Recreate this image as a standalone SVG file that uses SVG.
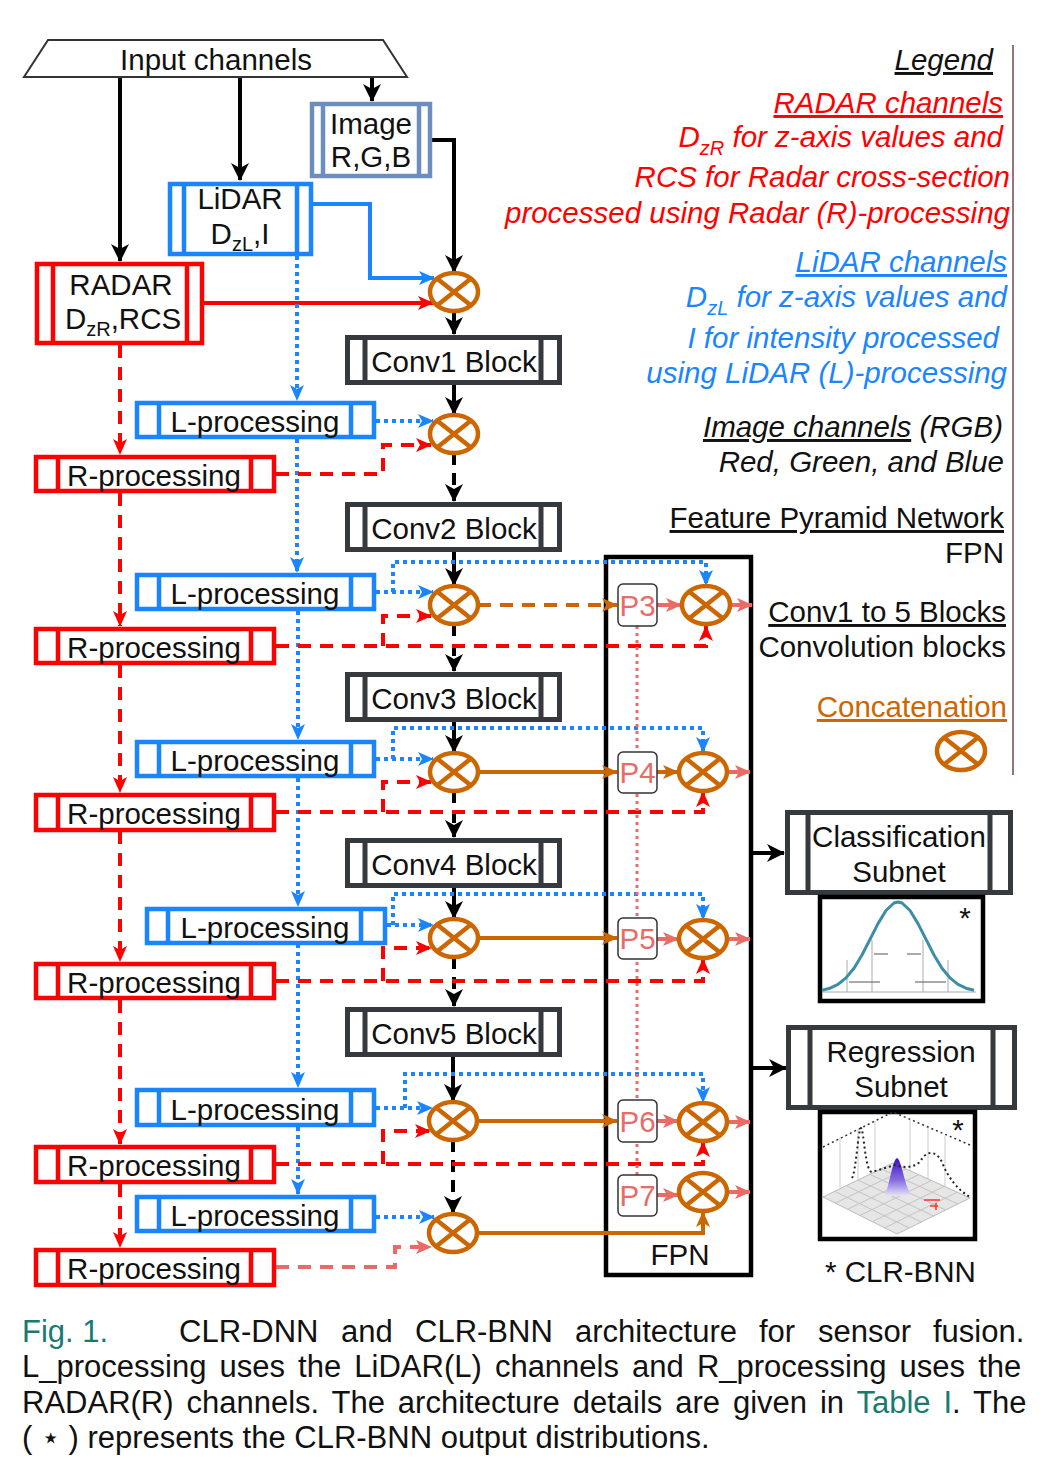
<svg xmlns="http://www.w3.org/2000/svg" width="1058" height="1476" viewBox="0 0 1058 1476">
<style>
.t{font-family:"Liberation Sans",Arial,Helvetica,sans-serif;font-size:29.5px;fill:#111}
.m{text-anchor:middle}
.e{text-anchor:end}
.i{font-style:italic}
.u{text-decoration:underline}
.bl{fill:#fff;stroke:#1a85ff;stroke-width:4.5}
.br{fill:#fff;stroke:#ff0000;stroke-width:4.5}
.bc{fill:#fff;stroke:#36393d;stroke-width:5}
.ln{fill:none;stroke-width:4}
.k{stroke:#000}
.b{stroke:#1a85ff}
.r{stroke:#ff0000}
.o{stroke:#cc6600}
.p{stroke:#ea6b66}
.dot{stroke-dasharray:4 4}
.dash{stroke-dasharray:13 9}
.kd{stroke-dasharray:12 8}
.pb{fill:#fff;stroke:#333;stroke-width:1.5}
.pt{fill:#ea6b66}
.cap{font-family:"Liberation Sans",Arial,Helvetica,sans-serif;font-size:31px;fill:#111}
</style>
<defs>
<marker id="ak" viewBox="0 0 18 18" refX="17" refY="9" markerWidth="18" markerHeight="18" markerUnits="userSpaceOnUse" orient="auto"><path d="M0,0 L18,9 L0,18 L5,9 Z" fill="#000"/></marker>
<marker id="ab" viewBox="0 0 16 14" refX="15" refY="7" markerWidth="16" markerHeight="14" markerUnits="userSpaceOnUse" orient="auto"><path d="M0,0 L16,7 L0,14 L4,7 Z" fill="#1a85ff"/></marker>
<marker id="ar" viewBox="0 0 16 14" refX="15" refY="7" markerWidth="16" markerHeight="14" markerUnits="userSpaceOnUse" orient="auto"><path d="M0,0 L16,7 L0,14 L4,7 Z" fill="#ff0000"/></marker>
<marker id="ao" viewBox="0 0 16 14" refX="15" refY="7" markerWidth="16" markerHeight="14" markerUnits="userSpaceOnUse" orient="auto"><path d="M0,0 L16,7 L0,14 L4,7 Z" fill="#cc6600"/></marker>
<marker id="ap" viewBox="0 0 16 14" refX="15" refY="7" markerWidth="16" markerHeight="14" markerUnits="userSpaceOnUse" orient="auto"><path d="M0,0 L16,7 L0,14 L4,7 Z" fill="#ea6b66"/></marker>
<g id="cx"><ellipse rx="24" ry="19" fill="#fff" stroke="#cc6600" stroke-width="4.5"/><path d="M-17,-13.5 L17,13.5 M-17,13.5 L17,-13.5" stroke="#cc6600" stroke-width="4.5"/></g>
<linearGradient id="pg" x1="0" y1="0" x2="0" y2="1"><stop offset="0" stop-color="#3a10c8"/><stop offset="0.6" stop-color="#8a70e0"/><stop offset="1" stop-color="#e8e4f6"/></linearGradient>
</defs>
<rect width="1058" height="1476" fill="#fff"/>

<g id="fpn">
<rect x="606" y="557" width="145" height="718" fill="none" stroke="#000" stroke-width="4.5"/>
<text class="t m" x="680" y="1265">FPN</text>
</g>

<g id="connectors">
<path class="ln k" d="M120,77 V261" marker-end="url(#ak)"/>
<path class="ln k" d="M240,77 V180" marker-end="url(#ak)"/>
<path class="ln k" d="M372,77 V101" marker-end="url(#ak)"/>
<path class="ln k" d="M432,140 H454 V272" marker-end="url(#ak)"/>
<path class="ln b" d="M313,204 H370 V278 H434" marker-end="url(#ab)"/>
<path class="ln r" d="M204,303 H433" marker-end="url(#ar)"/>
<path class="ln k" d="M454,311 V334" marker-end="url(#ak)"/>
<path class="ln k" d="M454,385 V414" marker-end="url(#ak)"/>
<path class="ln k kd" d="M454,453 V501" marker-end="url(#ak)"/>
<path class="ln k" d="M454,552 V585" marker-end="url(#ak)"/>
<path class="ln k kd" d="M454,624 V671" marker-end="url(#ak)"/>
<path class="ln k" d="M454,722 V752" marker-end="url(#ak)"/>
<path class="ln k kd" d="M454,791 V837" marker-end="url(#ak)"/>
<path class="ln k" d="M454,888 V918" marker-end="url(#ak)"/>
<path class="ln k kd" d="M454,957 V1006" marker-end="url(#ak)"/>
<path class="ln k" d="M453,1057 V1101" marker-end="url(#ak)"/>
<path class="ln k kd" d="M453,1140 V1213" marker-end="url(#ak)"/>
<path class="ln b dot" d="M297,248 V400" marker-end="url(#ab)"/>
<path class="ln b dot" d="M297,439 V572" marker-end="url(#ab)"/>
<path class="ln b dot" d="M298,611 V739" marker-end="url(#ab)"/>
<path class="ln b dot" d="M298,778 V906" marker-end="url(#ab)"/>
<path class="ln b dot" d="M298,944 V1087" marker-end="url(#ab)"/>
<path class="ln b dot" d="M298,1127 V1194" marker-end="url(#ab)"/>
<path class="ln r dash" d="M120,345 V454" marker-end="url(#ar)"/>
<path class="ln r dash" d="M120,493 V626" marker-end="url(#ar)"/>
<path class="ln r dash" d="M120,665 V792" marker-end="url(#ar)"/>
<path class="ln r dash" d="M120,831 V961" marker-end="url(#ar)"/>
<path class="ln r dash" d="M120,1000 V1144" marker-end="url(#ar)"/>
<path class="ln r dash" d="M120,1184 V1247" marker-end="url(#ar)"/>
<path class="ln b dot" d="M376,421 H433" marker-end="url(#ab)"/>
<path class="ln r dash" d="M276,474 H383 V445 H431" marker-end="url(#ar)"/>
<path class="ln b dot" d="M376,592 H433" marker-end="url(#ab)"/>
<path class="ln b dot" d="M393,592 V562 H706 V585" marker-end="url(#ab)"/>
<path class="ln r dash" d="M276,646 H706 V626" marker-end="url(#ar)"/>
<path class="ln r dash" d="M383,646 V616 H431" marker-end="url(#ar)"/>
<path class="ln o dash" d="M478,605 H617" marker-end="url(#ao)"/>
<path class="ln p" d="M657,605 H681" marker-end="url(#ap)"/>
<path class="ln p" d="M730,605 H752" marker-end="url(#ap)"/>
<path class="ln b dot" d="M376,759 H433" marker-end="url(#ab)"/>
<path class="ln b dot" d="M393,759 V728 H703 V752" marker-end="url(#ab)"/>
<path class="ln r dash" d="M276,812 H703 V792" marker-end="url(#ar)"/>
<path class="ln r dash" d="M383,812 V782 H431" marker-end="url(#ar)"/>
<path class="ln o" d="M478,772 H617" marker-end="url(#ao)"/>
<path class="ln o" d="M657,772 H678" marker-end="url(#ao)"/>
<path class="ln p" d="M727,772 H750" marker-end="url(#ap)"/>
<path class="ln b dot" d="M387,925 H433" marker-end="url(#ab)"/>
<path class="ln b dot" d="M393,925 V894 H703 V919" marker-end="url(#ab)"/>
<path class="ln r dash" d="M276,981 H703 V959" marker-end="url(#ar)"/>
<path class="ln r dash" d="M383,981 V948 H431" marker-end="url(#ar)"/>
<path class="ln o" d="M478,938 H617" marker-end="url(#ao)"/>
<path class="ln p" d="M657,939 H678" marker-end="url(#ap)"/>
<path class="ln p" d="M727,939 H750" marker-end="url(#ap)"/>
<path class="ln b dot" d="M376,1108 H432" marker-end="url(#ab)"/>
<path class="ln b dot" d="M405,1108 V1074 H703 V1102" marker-end="url(#ab)"/>
<path class="ln r dash" d="M276,1164 H703 V1142" marker-end="url(#ar)"/>
<path class="ln r dash" d="M383,1164 V1131 H430" marker-end="url(#ar)"/>
<path class="ln o" d="M477,1121 H617" marker-end="url(#ao)"/>
<path class="ln p" d="M657,1121 H678" marker-end="url(#ap)"/>
<path class="ln p" d="M727,1122 H750" marker-end="url(#ap)"/>
<path class="ln b dot" d="M376,1217 H434" marker-end="url(#ab)"/>
<path class="ln p dash" d="M276,1267 H395 V1247 H431" marker-end="url(#ap)"/>
<path class="ln o" d="M477,1233 H703 V1212" marker-end="url(#ao)"/>
<path class="ln p" d="M657,1195 H678" marker-end="url(#ap)"/>
<path class="ln p" d="M727,1192 H750" marker-end="url(#ap)"/>
<path fill="none" stroke="#ea6b66" stroke-width="3" stroke-dasharray="3 4" d="M637,626 V1175"/>
<path class="ln k" d="M753,853 H784" marker-end="url(#ak)"/>
<path class="ln k" d="M753,1068 H786" marker-end="url(#ak)"/>
</g>

<g id="input">
<polygon points="48,40 383,40 407,77 24,77" fill="#fff" stroke="#333" stroke-width="2"/>
<text class="t m" x="216" y="70">Input channels</text>
</g>
<g id="image">
<rect x="312" y="104" width="118" height="72" fill="#fff" stroke="#6c8ebf" stroke-width="4.5"/>
<path d="M323,104 V176 M419,104 V176" stroke="#6c8ebf" stroke-width="4.5"/>
<text class="t m" x="371" y="134">Image</text>
<text class="t m" x="371" y="167">R,G,B</text>
</g>
<g id="lidar">
<rect class="bl" x="170" y="184" width="141" height="70"/>
<path d="M184,184 V254 M297,184 V254" stroke="#1a85ff" stroke-width="4.5"/>
<text class="t m" x="240" y="209">LiDAR</text>
<text class="t m" x="240" y="244">D<tspan font-size="20" dy="7">zL</tspan><tspan dy="-7">,I</tspan></text>
</g>
<g id="radar">
<rect class="br" x="37" y="264" width="165" height="79"/>
<path d="M53,264 V343 M187,264 V343" stroke="#ff0000" stroke-width="4.5"/>
<text class="t m" x="121" y="295">RADAR</text>
<text class="t m" x="123" y="329">D<tspan font-size="20" dy="7">zR</tspan><tspan dy="-7">,RCS</tspan></text>
</g>

<g id="conv1"><rect class="bc" x="347.5" y="337.5" width="212" height="45"/><path d="M365,337.5 V382.5 M541,337.5 V382.5" stroke="#36393d" stroke-width="5"/><text class="t m" x="454" y="372">Conv1 Block</text></g>
<g id="conv2"><rect class="bc" x="347.5" y="504.5" width="212" height="45"/><path d="M365,504.5 V549.5 M541,504.5 V549.5" stroke="#36393d" stroke-width="5"/><text class="t m" x="454" y="539">Conv2 Block</text></g>
<g id="conv3"><rect class="bc" x="347.5" y="674.5" width="212" height="45"/><path d="M365,674.5 V719.5 M541,674.5 V719.5" stroke="#36393d" stroke-width="5"/><text class="t m" x="454" y="709">Conv3 Block</text></g>
<g id="conv4"><rect class="bc" x="347.5" y="840.5" width="212" height="45"/><path d="M365,840.5 V885.5 M541,840.5 V885.5" stroke="#36393d" stroke-width="5"/><text class="t m" x="454" y="875">Conv4 Block</text></g>
<g id="conv5"><rect class="bc" x="347.5" y="1009.5" width="212" height="45"/><path d="M365,1009.5 V1054.5 M541,1009.5 V1054.5" stroke="#36393d" stroke-width="5"/><text class="t m" x="454" y="1044">Conv5 Block</text></g>

<g id="lproc1"><rect class="bl" x="137" y="403" width="237" height="34"/><path d="M159,403 V437 M351,403 V437" stroke="#1a85ff" stroke-width="4.5"/><text class="t m" x="255" y="432">L-processing</text></g>
<g id="lproc2"><rect class="bl" x="137" y="575" width="237" height="34"/><path d="M159,575 V609 M351,575 V609" stroke="#1a85ff" stroke-width="4.5"/><text class="t m" x="255" y="604">L-processing</text></g>
<g id="lproc3"><rect class="bl" x="137" y="742" width="237" height="34"/><path d="M159,742 V776 M351,742 V776" stroke="#1a85ff" stroke-width="4.5"/><text class="t m" x="255" y="771">L-processing</text></g>
<g id="lproc4"><rect class="bl" x="147" y="909" width="238" height="34"/><path d="M168,909 V943 M361,909 V943" stroke="#1a85ff" stroke-width="4.5"/><text class="t m" x="265" y="938">L-processing</text></g>
<g id="lproc5"><rect class="bl" x="137" y="1090" width="237" height="35"/><path d="M159,1090 V1125 M351,1090 V1125" stroke="#1a85ff" stroke-width="4.5"/><text class="t m" x="255" y="1120">L-processing</text></g>
<g id="lproc6"><rect class="bl" x="137" y="1197" width="237" height="34"/><path d="M159,1197 V1231 M351,1197 V1231" stroke="#1a85ff" stroke-width="4.5"/><text class="t m" x="255" y="1226">L-processing</text></g>

<g id="rproc1"><rect class="br" x="36" y="457" width="238" height="34"/><path d="M58,457 V491 M251,457 V491" stroke="#ff0000" stroke-width="4.5"/><text class="t m" x="154" y="486">R-processing</text></g>
<g id="rproc2"><rect class="br" x="36" y="629" width="238" height="34"/><path d="M58,629 V663 M251,629 V663" stroke="#ff0000" stroke-width="4.5"/><text class="t m" x="154" y="658">R-processing</text></g>
<g id="rproc3"><rect class="br" x="36" y="795" width="238" height="35"/><path d="M58,795 V830 M251,795 V830" stroke="#ff0000" stroke-width="4.5"/><text class="t m" x="154" y="824">R-processing</text></g>
<g id="rproc4"><rect class="br" x="36" y="964" width="238" height="34"/><path d="M58,964 V998 M251,964 V998" stroke="#ff0000" stroke-width="4.5"/><text class="t m" x="154" y="993">R-processing</text></g>
<g id="rproc5"><rect class="br" x="36" y="1147" width="238" height="35"/><path d="M58,1147 V1182 M251,1147 V1182" stroke="#ff0000" stroke-width="4.5"/><text class="t m" x="154" y="1176">R-processing</text></g>
<g id="rproc6"><rect class="br" x="36" y="1250" width="238" height="35"/><path d="M58,1250 V1285 M251,1250 V1285" stroke="#ff0000" stroke-width="4.5"/><text class="t m" x="154" y="1279">R-processing</text></g>

<g id="concat1"><use href="#cx" x="454" y="292"/></g>
<g id="concat2"><use href="#cx" x="454" y="434"/></g>
<g id="concat3"><use href="#cx" x="454" y="605"/></g>
<g id="concat4"><use href="#cx" x="454" y="772"/></g>
<g id="concat5"><use href="#cx" x="454" y="938"/></g>
<g id="concat6"><use href="#cx" x="453" y="1121"/></g>
<g id="concat7"><use href="#cx" x="453" y="1233"/></g>

<g id="p3"><rect class="pb" x="618" y="584" width="39" height="42" rx="5"/><text class="t m pt" x="637.5" y="616">P3</text></g>
<g id="p4"><rect class="pb" x="618" y="752" width="39" height="41" rx="5"/><text class="t m pt" x="637.5" y="783">P4</text></g>
<g id="p5"><rect class="pb" x="618" y="918" width="39" height="41" rx="5"/><text class="t m pt" x="637.5" y="949">P5</text></g>
<g id="p6"><rect class="pb" x="618" y="1100" width="39" height="42" rx="5"/><text class="t m pt" x="637.5" y="1132">P6</text></g>
<g id="p7"><rect class="pb" x="618" y="1175" width="39" height="41" rx="5"/><text class="t m pt" x="637.5" y="1206">P7</text></g>

<g id="fconcat3"><use href="#cx" x="706" y="605"/></g>
<g id="fconcat4"><use href="#cx" x="703" y="772"/></g>
<g id="fconcat5"><use href="#cx" x="703" y="939"/></g>
<g id="fconcat6"><use href="#cx" x="703" y="1122"/></g>
<g id="fconcat7"><use href="#cx" x="703" y="1192"/></g>

<g id="classification">
<rect class="bc" x="787.5" y="812.5" width="223" height="80"/>
<path d="M808,812.5 V892.5 M990,812.5 V892.5" stroke="#36393d" stroke-width="5"/>
<text class="t m" x="899" y="847">Classification</text>
<text class="t m" x="899" y="882">Subnet</text>
<rect x="820" y="897" width="163" height="104" fill="#fff" stroke="#000" stroke-width="4.5"/>
<path d="M822,992 H976 M847,960 V992 M872,940 V992 M923,940 V992 M948,960 V992" stroke="#aaa" stroke-width="1" fill="none"/>
<path d="M874,954 H888 M907,954 H921 M849,982 H880 M915,982 H946" stroke="#555" stroke-width="1" fill="none"/>
<polyline points="822,990.3 830,988.2 838,984.4 846,977.9 854,968.2 862,955 870,939.4 878,923.6 886,910.5 894,903 898,902 902,903 910,910.5 918,923.6 926,939.4 934,955 942,968.2 950,977.9 958,984.4 966,988.2 974,990.3" fill="none" stroke="#3b8ea5" stroke-width="3" stroke-linejoin="round"/>
<text class="t m" x="965" y="928" font-size="22">*</text>
</g>

<g id="regression">
<rect class="bc" x="788.5" y="1027.5" width="226" height="80"/>
<path d="M810,1027.5 V1107.5 M993,1027.5 V1107.5" stroke="#36393d" stroke-width="5"/>
<text class="t m" x="901" y="1062">Regression</text>
<text class="t m" x="901" y="1097">Subnet</text>
<rect x="820" y="1112" width="155" height="127" fill="#fff" stroke="#000" stroke-width="4.5"/>
<path d="M840,1138 V1188 M858,1129 V1180 M875,1121 V1172 M910,1120 V1171 M928,1128 V1180 M945,1136 V1187" stroke="#ccc" stroke-width="1"/>
<path d="M823,1147 L893,1112 L970,1145" fill="none" stroke="#333" stroke-width="1.5" stroke-dasharray="2 3"/>
<polygon points="823,1197 893,1163 970,1198 897,1234" fill="#e6e6e6" stroke="#bbb" stroke-width="1"/>
<path d="M835.3,1203.2 L905.8,1168.8 M847.7,1209.3 L918.7,1174.7 M860,1215.5 L931.5,1180.5 M872.3,1221.7 L944.3,1186.3 M884.7,1227.8 L957.2,1192.2 M834.7,1191.3 L909.2,1228 M846.3,1185.7 L921.3,1222 M858,1180 L933.5,1216 M869.7,1174.3 L945.7,1210 M881.3,1168.7 L957.8,1204" stroke="#c4c4c4" stroke-width="1"/>
<path d="M884,1196 C890,1186 892,1160 897,1158 C902,1160 904,1186 912,1196 Z" fill="url(#pg)"/>
<path d="M852,1178 C856,1172 858,1130 861,1128 C864,1130 865,1172 872,1172 L895,1165 C905,1168 912,1168 920,1162 C926,1150 936,1150 942,1162 C948,1178 958,1190 970,1197" fill="none" stroke="#222" stroke-width="2" stroke-dasharray="2 3"/>
<path d="M924,1200 H940 M936,1203 V1210 M930,1206 H938" stroke="#ff3030" stroke-width="1.5"/>
<text class="t m" x="958" y="1140" font-size="22">*</text>
</g>
<text class="t" x="825" y="1282">* CLR-BNN</text>

<g id="legend">
<path d="M1013,45 V775" stroke="#957575" stroke-width="2"/>
<text class="t e i u" x="993" y="70">Legend</text>
<text class="t e i u" x="1003" y="113" style="fill:#ff0000">RADAR channels</text>
<text class="t e i" x="1003" y="147" style="fill:#ff0000">D<tspan font-size="20" dy="8">zR</tspan><tspan dy="-8"> for z-axis values and</tspan></text>
<text class="t e i" x="1010" y="187" style="fill:#ff0000">RCS for Radar cross-section</text>
<text class="t e i" x="1010" y="223" style="fill:#ff0000">processed using Radar (R)-processing</text>
<text class="t e i u" x="1007" y="272" style="fill:#1a85ff">LiDAR channels</text>
<text class="t e i" x="1007" y="307" style="fill:#1a85ff">D<tspan font-size="20" dy="8">zL</tspan><tspan dy="-8"> for z-axis values and</tspan></text>
<text class="t e i" x="999" y="348" style="fill:#1a85ff">I for intensity processed</text>
<text class="t e i" x="1007" y="383" style="fill:#1a85ff">using LiDAR (L)-processing</text>
<text class="t e i" x="1003" y="437"><tspan text-decoration="underline">Image channels</tspan> (RGB)</text>
<text class="t e i" x="1004" y="472">Red, Green, and Blue</text>
<text class="t e u" x="1004" y="528">Feature Pyramid Network</text>
<text class="t e" x="1004" y="563">FPN</text>
<text class="t e u" x="1006" y="622">Conv1 to 5 Blocks</text>
<text class="t e" x="1006" y="657">Convolution blocks</text>
<text class="t e u" x="1007" y="717" style="fill:#cc6600">Concatenation</text>
<use href="#cx" x="961" y="751"/>
</g>

<g id="caption">
<text class="cap" y="1342"><tspan x="22" fill="#1a7a70">Fig. 1.</tspan><tspan x="179">CLR-DNN</tspan><tspan x="341">and</tspan><tspan x="415">CLR-BNN</tspan><tspan x="575">architecture</tspan><tspan x="759">for</tspan><tspan x="818">sensor</tspan><tspan x="933">fusion.</tspan></text>
<text class="cap" x="22" y="1377" word-spacing="4.5">L_processing uses the LiDAR(L) channels and R_processing uses the</text>
<text class="cap" x="22" y="1413" word-spacing="4.3">RADAR(R) channels. The architecture details are given in <tspan fill="#1a7a70">Table I</tspan>. The</text>
<text class="cap" x="22" y="1448">( ⋆ ) represents the CLR-BNN output distributions.</text>
</g>
</svg>
